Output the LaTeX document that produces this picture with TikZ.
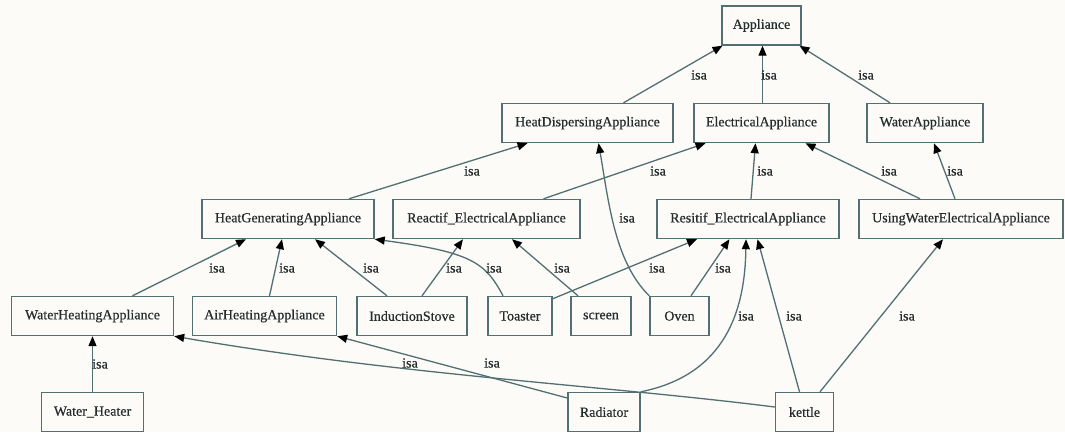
\documentclass[tikz,border=0pt]{standalone}
\usepackage{fontspec}
\setmainfont{Liberation Serif}
\newfontfamily\clsfont[FakeBold=0.5]{Liberation Serif}
\usetikzlibrary{arrows.meta}
\definecolor{edgecol}{RGB}{82,112,114}
\definecolor{txtcol}{RGB}{36,44,44}
\definecolor{bgcol}{RGB}{252,251,248}
\tikzset{
  cls/.style={draw=edgecol,line width=1.4pt,text=txtcol,font=\clsfont\fontsize{14}{16}\selectfont,
    minimum height=39pt,inner sep=0pt},
  isa/.style={draw=edgecol,line width=1.3pt,-{Triangle[length=10pt,width=8pt,color=black]}},
  lbl/.style={text=txtcol,font=\clsfont\fontsize{14}{16}\selectfont,inner sep=0pt}
}
\begin{document}
\begin{tikzpicture}[x=1pt,y=-1pt]
\fill[bgcol] (0,0) rectangle (1065,432);
\useasboundingbox (0,0) rectangle (1065,432);
% classes
\node[cls,minimum width=79] (Appl) at (761.5,25.5) {Appliance};
\node[cls,minimum width=171] (HDisp) at (587.5,123) {HeatDispersingAppliance};
\node[cls,minimum width=135] (Elec) at (761.5,123) {ElectricalAppliance};
\node[cls,minimum width=116] (WApp) at (925,123) {WaterAppliance};
\node[cls,minimum width=172] (HGen) at (288,219) {HeatGeneratingAppliance};
\node[cls,minimum width=187] (Reac) at (486.5,219) {Reactif\_ElectricalAppliance};
\node[cls,minimum width=182] (Resi) at (748,219) {Resitif\_ElectricalAppliance};
\node[cls,minimum width=204] (UWE) at (961,219) {UsingWaterElectricalAppliance};
\node[cls,minimum width=162] (WHeat) at (92.5,316) {WaterHeatingAppliance};
\node[cls,minimum width=144] (AirH) at (264.5,316) {AirHeatingAppliance};
\node[cls,minimum width=110] (Ind) at (412,316) {InductionStove};
\node[cls,minimum width=64] (Toas) at (520,316) {Toaster};
\node[cls,minimum width=60] (Scr) at (601,316) {screen};
\node[cls,minimum width=59] (Oven) at (679.5,316) {Oven};
\node[cls,minimum width=102] (WHtr) at (92.5,412) {Water\_Heater};
\node[cls,minimum width=72] (Rad) at (604,412) {Radiator};
\node[cls,minimum width=58] (Ket) at (804.5,412) {kettle};
% isa links
\draw[isa] ([xshift=36pt]HDisp.north) -- ([xshift=-39pt]Appl.south);
\draw[isa] ([xshift=1pt]Elec.north) -- ([xshift=1pt]Appl.south);
\draw[isa] ([xshift=-35pt]WApp.north) -- ([xshift=38pt]Appl.south);
\draw[isa] ([xshift=61pt]HGen.north) -- ([xshift=-60pt]HDisp.south);
\draw[isa] ([xshift=57pt]Reac.north) -- ([xshift=-56pt]Elec.south);
\draw[isa] (Oven.north west) .. controls +(-35,-34) and +(10,57) .. ([xshift=11pt]HDisp.south);
\draw[isa] ([xshift=3pt]Resi.north) -- ([xshift=-6pt]Elec.south);
\draw[isa] ([xshift=-41pt]UWE.north) -- ([xshift=44pt]Elec.south);
\draw[isa] ([xshift=-6pt]UWE.north) -- ([xshift=9pt]WApp.south);
\draw[isa] ([xshift=40pt]WHeat.north) -- ([xshift=-42pt]HGen.south);
\draw[isa] ([xshift=5pt]AirH.north) -- ([xshift=-6pt]HGen.south);
\draw[isa] ([xshift=-25pt]Ind.north) -- ([xshift=27pt]HGen.south);
\draw[isa] ([xshift=10pt]Ind.north) -- ([xshift=-23.5pt]Reac.south);
\draw[isa] ([xshift=-17pt]Toas.north) .. controls +(-18,-34) and +(96,13) .. (HGen.south east);
\draw[isa] ([xshift=-23pt]Scr.north) -- ([xshift=25.5pt]Reac.south);
\draw[isa] ([yshift=-3pt]Toas.north east) -- ([xshift=-51pt]Resi.south);
\draw[isa] ([xshift=11.5pt]Oven.north) -- ([xshift=-18.5pt]Resi.south);
\draw[isa] (Rad.north east) .. controls +(85,-17) and +(-1,71) .. ([xshift=-2pt]Resi.south);
\draw[isa] ([xshift=-5pt]Ket.north) -- ([xshift=9.5pt]Resi.south);
\draw[isa] ([xshift=15.5pt]Ket.north) -- ([xshift=-18pt]UWE.south);
\draw[isa] (WHtr.north) -- (WHeat.south);
\draw[isa] ([yshift=5pt]Ket.west) .. controls +(-175,-22) and +(227,39) .. (WHeat.south east);
\draw[isa] ([yshift=14pt]Rad.west) -- (AirH.south east);
% labels
\foreach \p [count=\i] in {(699,75),(769,75),(866,75),(472,171),(658,171),(765,171),
  (889,171),(955,171),(627,218),(217,268),(287,268),(371,268),(454,268),(494,268),
  (562,268),(657,268),(723,268),(746,316),(794,316),(907,316),(100,364),(410,363),(492,363)}
  \node[lbl] (isa\i) at \p {isa};
\end{tikzpicture}
\end{document}
